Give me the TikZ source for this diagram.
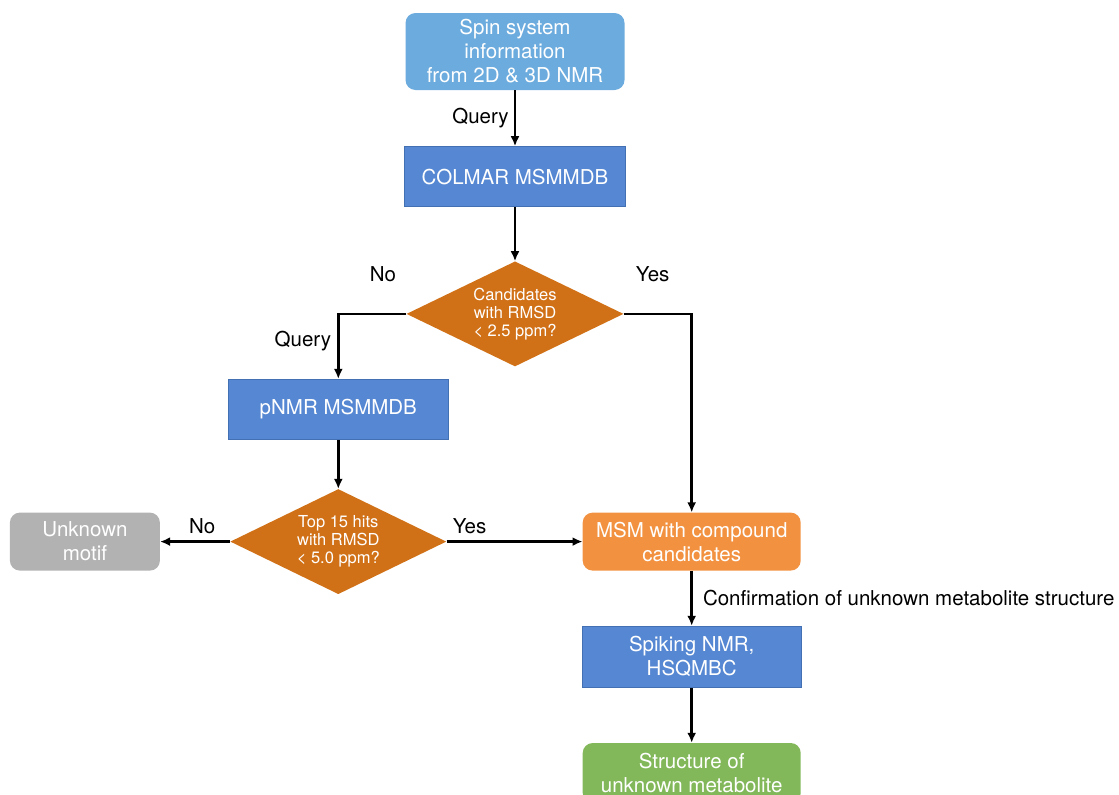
\documentclass[tikz,border=0pt]{standalone}
\usepackage{fontspec}
\setmainfont{TeX Gyre Heros}
\usetikzlibrary{arrows.meta,positioning,shapes.geometric}

\definecolor{spinblue}{RGB}{108,171,221}
\definecolor{dbblue}{RGB}{85,135,210}
\definecolor{dbedge}{RGB}{66,112,178}
\definecolor{decorange}{RGB}{209,113,23}
\definecolor{msmorange}{RGB}{242,146,65}
\definecolor{motifgray}{RGB}{178,178,178}
\definecolor{resgreen}{RGB}{130,184,90}

\begin{document}
\begin{tikzpicture}[>={Latex[length=10pt,width=9pt]}, x=1pt, y=-1pt]
        \tikzset{block/.style= {rectangle, align=center, text=white, inner sep=0pt, font=\fontsize{20.5}{24}\selectfont, minimum width=219pt, minimum height=60pt},
                 dbblock/.style= {block, fill=dbblue, draw=dbedge, line width=1pt},
                 roundblock/.style= {block, rounded corners=10pt},
                 decision/.style= {diamond, fill=decorange, text=white, align=center, inner sep=0pt, aspect=2.07, minimum width=217pt, minimum height=105pt, font=\fontsize{16.5}{18}\selectfont},
                 lbl/.style= {inner sep=0pt, text=black, font=\fontsize{20.5}{24}\selectfont},
                 flow/.style= {draw, ->, line width=2.6pt}
        }
        \useasboundingbox (0,0) rectangle (1119,795);

        \node [roundblock, fill=spinblue, minimum height=77pt] (spin) at (515,51.5) {Spin system\\information\\from 2D \& 3D NMR};
        \node [dbblock, minimum width=221pt, below=56pt of spin] (colmar) {COLMAR MSMMDB};
        \node [decision, below=54pt of colmar] (check1) {Candidates\\with RMSD\\< 2.5 ppm?};

        \node [coordinate, left=68pt of check1.west] (noturn) {};
        \node [dbblock, minimum width=220pt, below=65pt of noturn] (pnmr) {pNMR MSMMDB};
        \node [decision, minimum width=216pt, below=49pt of pnmr] (check2) {Top 15 hits\\with RMSD\\< 5.0 ppm?};

        \node [roundblock, fill=motifgray, minimum width=150pt, minimum height=58pt, left=70pt of check2] (motif) {Unknown\\motif};
        \node [roundblock, fill=msmorange, minimum width=218pt, minimum height=58pt, right=136pt of check2] (msm) {MSM with compound\\candidates};
        \node [dbblock, minimum height=61pt, below=55pt of msm] (spike) {Spiking NMR,\\HSQMBC};
        \node [roundblock, fill=resgreen, minimum width=218pt, below=55pt of spike] (result) {Structure of\\unknown metabolite};

        \node [coordinate] (yesturn) at (check1.east -| msm.north) {};

        \node [lbl, above left=32pt and 10pt of check1.west] (nolbl) {No};
        \node [lbl, above right=32pt and 12pt of check1.east] (yeslbl) {Yes};

        \draw [flow] (check1.west) -- (noturn) -- node[lbl, left=6pt, pos=0.42] {Query} (pnmr);
        \draw [flow] (check1.east) -- (yesturn) -- (msm);

        \path[flow]
            (spin) edge node[lbl, left=5pt] {Query} (colmar)
            (colmar) edge (check1)
            (pnmr) edge (check2)
            (check2) edge node[lbl, above=6pt, pos=0.4] {No} (motif)
            (check2) edge node[lbl, above=6pt, pos=0.17] {Yes} (msm)
            (msm) edge node[lbl, right=10pt] {Confirmation of unknown metabolite structure} (spike)
            (spike) edge (result)
                    ;
\end{tikzpicture}
\end{document}
